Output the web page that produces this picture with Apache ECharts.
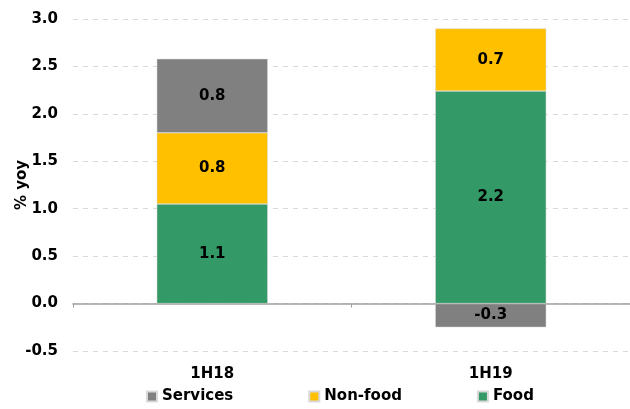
<!DOCTYPE html>
<html>
<head>
<meta charset="utf-8">
<script src="https://cdn.jsdelivr.net/npm/echarts@6/dist/echarts.min.js"></script>
<style>
html, body { margin: 0; padding: 0; background: #fff; }
#chart { width: 630px; height: 409px; }
</style>
</head>
<body>
<div id="chart"></div>
<script>
var categories = ['1H18', '1H19'];
var food = [1.05, 2.24];
var nonFood = [0.75, 0.66];
var services = [0.78, -0.25];

var font = '"DejaVu Sans", Verdana, sans-serif';
var labelStyle = {
	show: true,
	position: 'inside',
	color: '#000',
	fontFamily: font,
	fontWeight: 'bold',
	fontSize: 15,
	formatter: function (p) { return p.value.toFixed(1); }
};

var myChart = echarts.init(document.getElementById('chart'));
var chartOption = {
	animation: false,
	textStyle: { fontFamily: font },
	grid: { left: 73, right: 0, top: 19, bottom: 58, outerBoundsMode: 'none', containLabel: false },
	legend: {
		data: ['Services', 'Non-food', 'Food'],
		left: 141,
		top: 384,
		itemWidth: 10,
		itemHeight: 10,
		itemGap: 75,
		icon: 'rect',
		textStyle: { fontFamily: font, fontWeight: 'bold', fontSize: 15, color: '#000' }
	},
	xAxis: [
		{
			type: 'category',
			data: categories,
			axisLine: { onZero: true, lineStyle: { color: '#a0a0a0', width: 1.5 } },
			axisTick: { show: true, length: 4, lineStyle: { color: '#a0a0a0' } },
			axisLabel: { show: false }
		},
		{
			type: 'category',
			data: categories,
			position: 'bottom',
			axisLine: { show: false, onZero: false },
			axisTick: { show: false },
			axisLabel: { margin: 16, color: '#000', fontFamily: font, fontWeight: 'bold', fontSize: 15 }
		}
	],
	yAxis: {
		type: 'value',
		min: -0.5,
		max: 3.0,
		interval: 0.5,
		name: '% yoy',
		nameLocation: 'middle',
		nameGap: 43,
		nameMoveOverlap: false,
		nameTextStyle: { color: '#000', fontFamily: font, fontWeight: 'bold', fontSize: 15 },
		axisLine: { show: false },
		axisTick: { show: false },
		axisLabel: {
			margin: 15,
			color: '#000',
			fontFamily: font,
			fontWeight: 'bold',
			fontSize: 15,
			formatter: function (v) { return v.toFixed(1); }
		},
		splitLine: { lineStyle: { color: '#d9d9d9', type: [5, 5] } }
	},
	series: [
		{
			name: 'Food', type: 'bar', stack: 'total', data: food, barWidth: 111,
			itemStyle: { color: '#339966', borderColor: '#d9d9d9', borderWidth: 0.5 },
			label: labelStyle
		},
		{
			name: 'Non-food', type: 'bar', stack: 'total', data: nonFood,
			itemStyle: { color: '#ffc000', borderColor: '#d9d9d9', borderWidth: 0.5 },
			label: labelStyle
		},
		{
			name: 'Services', type: 'bar', stack: 'total', data: services,
			itemStyle: { color: '#808080', borderColor: '#d9d9d9', borderWidth: 0.5 },
			label: labelStyle
		}
	]
};
myChart.setOption(chartOption);
</script>
</body>
</html>
